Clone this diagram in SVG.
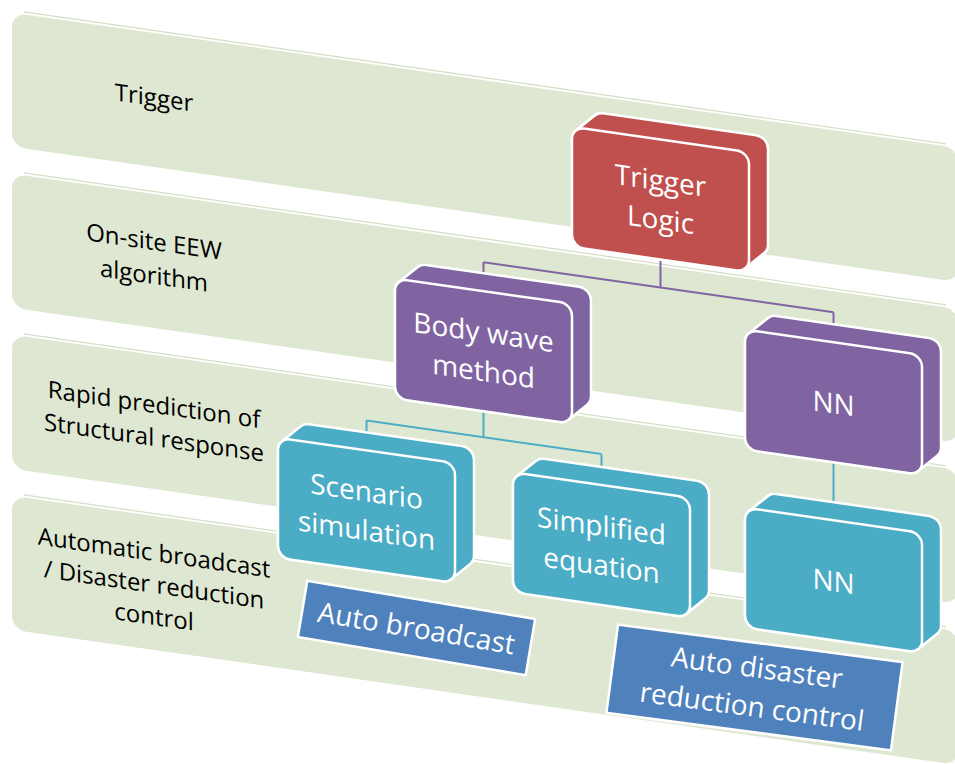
<svg xmlns="http://www.w3.org/2000/svg" xmlns:xlink="http://www.w3.org/1999/xlink" width="955" height="764" viewBox="0 0 955 764">
<style>
.band{fill:#DEE7D1}
.hl{stroke:#D3DEC4;stroke-width:1.2;fill:none}
.bt{font-family:"Open Sans","Noto Sans",sans-serif;font-size:24px;fill:#000;text-anchor:middle}
.nt{font-family:"Open Sans","Noto Sans",sans-serif;font-size:28px;fill:#fff;text-anchor:middle}
.hull,.face{stroke:#fff;stroke-width:2.5;stroke-linejoin:round}
.red{fill:#C0504D}.pur{fill:#8064A2}.teal{fill:#4BACC6}.blue{fill:#4F81BD}
.cp{stroke:#8064A2;stroke-width:2;fill:none}
.ct{stroke:#4BACC6;stroke-width:2;fill:none}
.lab{fill:#4F81BD;stroke:#fff;stroke-width:2.5}
</style>
<defs>
<path id="box" d="M0,108 V12 A12,12 0 0 1 3.74,3.29 L22.74,-14.71 A12,12 0 0 1 31,-18 H184 A12,12 0 0 1 196,-6 V90 A12,12 0 0 1 192.26,98.71 L173.26,116.71 A12,12 0 0 1 165,120 H12 A12,12 0 0 1 0,108 Z"/>
</defs>
<rect width="955" height="764" fill="#fff"/>
<g id="bands" transform="skewY(8.14)">
<g id="band-trigger">
<rect class="band" x="12" y="11" width="946" height="134" rx="14"/>
<line class="hl" x1="24" y1="8.5" x2="946" y2="8.5"/>
<text class="bt" x="154" y="84">Trigger</text>
</g>
<g id="band-onsite">
<rect class="band" x="12" y="172" width="946" height="134" rx="14"/>
<line class="hl" x1="24" y1="169.5" x2="946" y2="169.5"/>
<text class="bt" x="154" y="228">On-site EEW</text>
<text class="bt" x="154" y="262">algorithm</text>
</g>
<g id="band-rapid">
<rect class="band" x="12" y="333" width="946" height="134" rx="14"/>
<line class="hl" x1="24" y1="330.5" x2="946" y2="330.5"/>
<text class="bt" x="154" y="391">Rapid prediction of</text>
<text class="bt" x="154" y="424">Structural response</text>
</g>
<g id="band-auto">
<rect class="band" x="12" y="494" width="946" height="134" rx="14"/>
<line class="hl" x1="24" y1="491.5" x2="946" y2="491.5"/>
<text class="bt" x="154" y="539">Automatic broadcast</text>
<text class="bt" x="154" y="571">/ Disaster reduction</text>
<text class="bt" x="154" y="603">control</text>
</g>
</g>
<g id="connectors" transform="skewY(8.14)">
<path class="cp" d="M660.5,165 V193 M483.5,193 H833.5 M483.5,193 V215 M833.5,193 V215"/>
<path class="ct" d="M483.5,341 V368 M366.5,368 H601.5 M366.5,368 V392 M601.5,368 V392"/>
<path class="ct" d="M833.5,343 V395"/>
</g>
<g id="n-trigger" transform="skewY(8.14) translate(572,45)">
<use xlink:href="#box" class="hull red"/>
<rect class="face red" width="177" height="120" rx="12"/>
<text class="nt" x="88.5" y="51">Trigger</text>
<text class="nt" x="88.5" y="90">Logic</text>
</g>
<g id="n-body" transform="skewY(8.14) translate(395,222)">
<use xlink:href="#box" class="hull pur"/>
<rect class="face pur" width="177" height="120" rx="12"/>
<text class="nt" x="88.5" y="51">Body wave</text>
<text class="nt" x="88.5" y="90">method</text>
</g>
<g id="n-nn1" transform="skewY(8.14) translate(745,223)">
<use xlink:href="#box" class="hull pur"/>
<rect class="face pur" width="177" height="120" rx="12"/>
<text class="nt" x="88.5" y="71">NN</text>
</g>
<g id="n-scenario" transform="skewY(8.14) translate(278,398)">
<use xlink:href="#box" class="hull teal"/>
<rect class="face teal" width="177" height="120" rx="12"/>
<text class="nt" x="88.5" y="51">Scenario</text>
<text class="nt" x="88.5" y="90">simulation</text>
</g>
<g id="n-simplified" transform="skewY(8.14) translate(513,399)">
<use xlink:href="#box" class="hull teal"/>
<rect class="face teal" width="177" height="120" rx="12"/>
<text class="nt" x="88.5" y="51">Simplified</text>
<text class="nt" x="88.5" y="90">equation</text>
</g>
<g id="n-nn2" transform="skewY(8.14) translate(745,401)">
<use xlink:href="#box" class="hull teal"/>
<rect class="face teal" width="177" height="120" rx="12"/>
<text class="nt" x="88.5" y="71">NN</text>
</g>
<g id="n-autobroadcast" transform="translate(416.5,628) rotate(9.5)">
<rect class="lab" x="-115.5" y="-28.5" width="231" height="57"/>
<text class="nt" x="0" y="10">Auto broadcast</text>
</g>
<g id="n-autodisaster" transform="translate(754.5,687.5) rotate(7.5)">
<rect class="lab" x="-143.5" y="-44.5" width="287" height="89"/>
<text class="nt" x="0" y="-10">Auto disaster</text>
<text class="nt" x="0" y="29">reduction control</text>
</g>
</svg>
